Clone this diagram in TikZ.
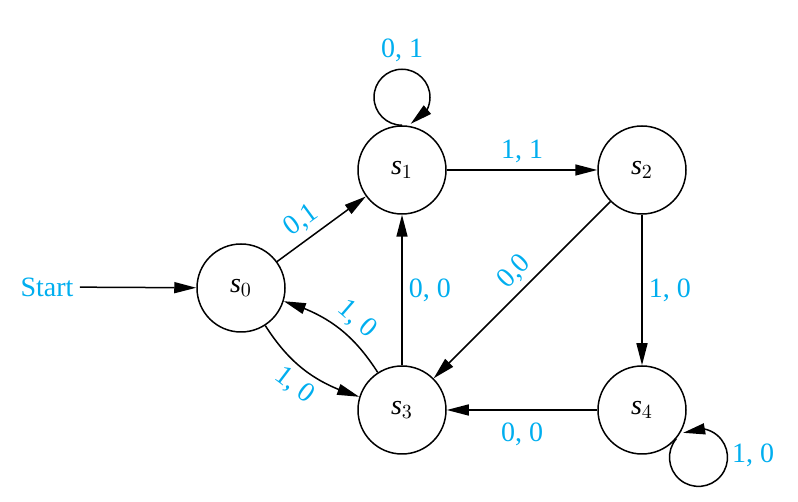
\documentclass[tikz,border=0pt]{standalone}
\usepackage{fontspec}
\setmainfont{Liberation Serif}
\usetikzlibrary{arrows.meta,bending,positioning}
\definecolor{labcyan}{RGB}{0,174,239}
\tikzset{
  state/.style={circle,draw,line width=0.75pt,minimum size=44pt,inner sep=0pt},
  lab/.style={text=labcyan,inner sep=3pt},
  trans/.style={-{Triangle[length=11pt,width=5.5pt]},line width=0.75pt}
}
\newcommand{\stname}[1]{$\mathit{s}_{#1}$}

\begin{document}
\begin{tikzpicture}[x=0.5pt,y=0.5pt,font=\fontsize{14}{17}\selectfont]
\useasboundingbox (0,0) rectangle (798,502);
\node[state](s0) at (241,214){\stname{0}};
\node[state](s1) at (402,332){\stname{1}};
\node[state](s2) at (642,332){\stname{2}};
\node[state](s3) at (402,92){\stname{3}};
\node[state](s4) at (642,92){\stname{4}};
\node[lab](start) at (47,215){Start};
\draw[trans] (start) -- (s0);
\draw[trans] (s0) -- node[lab,above,sloped,pos=0.4]{0,1} (s1);
\draw[trans] (s1) -- node[lab,above]{1, 1} (s2);
\draw[trans] (s2) -- node[lab,above,sloped,pos=0.47]{0,0} (s3);
\draw[trans] (s2) -- node[lab,right]{1, 0} (s4);
\draw[trans] (s3) -- node[lab,right]{0, 0} (s1);
\draw[trans] (s4) -- node[lab,below=3pt]{0, 0} (s3);
\draw[trans] (s0) to[bend right=20] node[lab,below,sloped]{1, 0} (s3);
\draw[trans] (s3) to[bend right=20] node[lab,above,sloped,pos=0.42]{1, 0} (s0);
% loops
\draw[trans] (s1.north) arc[start angle=-90,end angle=-432,radius=14pt];
\draw[trans] (s4.-40) arc[start angle=140,end angle=482,radius=14.5pt];
\node[lab](l1) at (402,452){0, 1};
\node[lab](l4) at (753,47){1, 0};
\end{tikzpicture}
\end{document}
